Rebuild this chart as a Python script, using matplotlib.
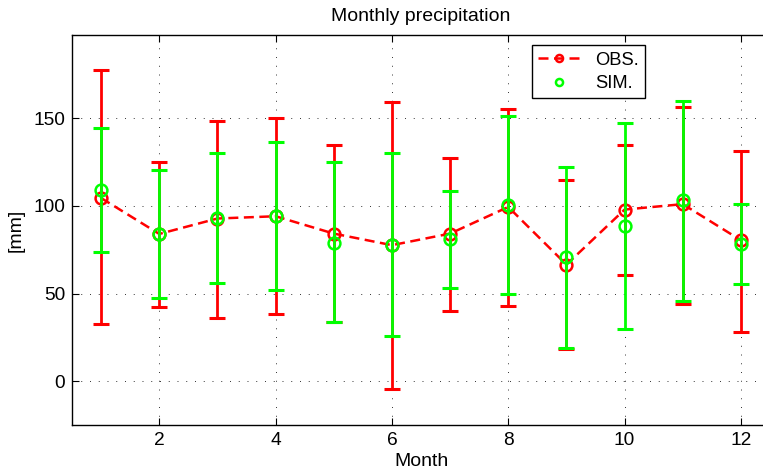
import numpy as np
import matplotlib
matplotlib.use("Agg")
import matplotlib.pyplot as plt

plt.rcParams["font.family"] = ["Liberation Sans", "DejaVu Sans"]

# Monthly values
months = np.arange(1, 13)
obs_mean = [104.5, 84.0, 92.8, 94.1, 84.2, 77.6, 84.2, 99.4, 66.5, 97.9, 101.0, 80.4]
obs_low = [32.7, 42.4, 36.3, 38.4, 33.5, -4.6, 40.1, 43.0, 18.6, 60.3, 44.3, 28.3]
obs_high = [177.4, 124.9, 148.3, 150.4, 134.8, 159.1, 127.6, 155.3, 114.6, 134.6, 156.7, 131.4]

sim_mean = [109.1, 84.0, 93.2, 94.1, 79.1, 77.9, 81.2, 100.4, 71.1, 88.8, 103.2, 78.5]
sim_low = [73.8, 47.7, 55.9, 52.1, 33.7, 25.7, 53.2, 49.8, 19.2, 29.7, 45.8, 55.7]
sim_high = [144.7, 120.3, 130.4, 136.5, 124.9, 130.2, 108.6, 151.3, 122.2, 147.5, 160.1, 101.1]

obs_mean = np.array(obs_mean)
sim_mean = np.array(sim_mean)
obs_err = [obs_mean - np.array(obs_low), np.array(obs_high) - obs_mean]
sim_err = [sim_mean - np.array(sim_low), np.array(sim_high) - sim_mean]

red = "#ff0000"
green = "#00ff00"

fig = plt.figure(figsize=(7.63, 4.72), dpi=100)
ax = fig.add_axes([72 / 763, 47 / 472, 698 / 763, 390 / 472])

# error bars first, observed then simulated on top
ax.errorbar(months, obs_mean, yerr=obs_err, fmt="none", ecolor=red,
            elinewidth=2.0, capsize=6, capthick=2.2, zorder=2)
h_obs, = ax.plot(months, obs_mean, "--o", color=red, lw=1.8, dashes=(4, 2.2),
                 ms=8.5, mfc="none", mec=red, mew=1.8, label="OBS.", zorder=3)
ax.errorbar(months, sim_mean, yerr=sim_err, fmt="none", ecolor=green,
            elinewidth=2.0, capsize=6, capthick=2.2, zorder=4)
h_sim, = ax.plot(months, sim_mean, "o", color=green, ms=8.5, mfc="none",
                 mec=green, mew=1.8, label="SIM.", zorder=5)

ax.set_xlim(0.5, 12.5)
ax.set_ylim(-25, 197.5)
ax.set_xticks([2, 4, 6, 8, 10, 12])
ax.set_yticks([0, 50, 100, 150])
ax.tick_params(direction="in", length=5, width=0.8, top=True, right=True,
               labelsize=13.8, pad=5)
ax.grid(True, linestyle=(0, (1, 8)), color="black", linewidth=0.7, alpha=0.8)
for s in ax.spines.values():
    s.set_linewidth(1.0)

ax.set_title("Monthly precipitation", fontsize=14, pad=10)
ax.set_xlabel("Month", fontsize=14, labelpad=3)
ax.set_ylabel("[mm]", fontsize=14, labelpad=6)

leg = ax.legend(handles=[h_obs, h_sim], loc="upper left",
                bbox_to_anchor=(0.659, 0.974), borderaxespad=0,
                fontsize=13.2, fancybox=False, framealpha=1,
                edgecolor="black", handlelength=2.3, markerscale=0.6,
                borderpad=0.35, labelspacing=0.35)
leg.get_frame().set_linewidth(1.0)

fig.savefig("out.png", dpi=100)
